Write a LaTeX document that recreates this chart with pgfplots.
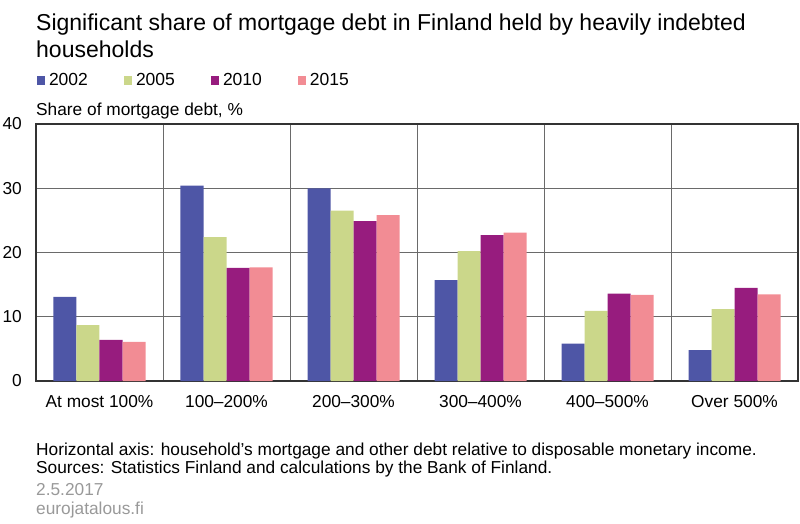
\documentclass[border=0pt]{standalone}
\usepackage{pgfplots}
\pgfplotsset{compat=1.18}
\usepackage{fontspec}
\setmainfont{Liberation Sans}
\definecolor{c2002}{HTML}{4E56A6}
\definecolor{c2005}{HTML}{CBD78A}
\definecolor{c2010}{HTML}{971C7E}
\definecolor{c2015}{HTML}{F28C94}
\definecolor{framec}{HTML}{333333}
\definecolor{gridc}{HTML}{6A6A6A}
\definecolor{footg}{HTML}{999999}
\begin{document}
\begin{tikzpicture}
\useasboundingbox (-36pt,-142pt) rectangle (764pt,381pt);
\begin{axis}[
  scale only axis,
  width=762pt, height=257pt,
  at={(0pt,0pt)}, anchor=south west,
  xmin=-0.5, xmax=5.5, ymin=0, ymax=40,
  ybar=0pt, bar width=23pt,
  xtick={0,1,2,3,4,5},
  xticklabels={At most 100\%,100–200\%,200–300\%,300–400\%,400–500\%,Over 500\%},
  minor xtick={0.5,1.5,2.5,3.5,4.5},
  ytick={0,10,20,30,40},
  major tick length=0pt, minor tick length=0pt,
  xminorgrids=true, ymajorgrids=true,
  grid style={gridc, line width=0.8pt},
  minor grid style={gridc, line width=0.8pt},
  axis line style={framec, line width=1.1pt},
  /pgf/number format/assume math mode=true,
  ticklabel style={font=\fontsize{17.3}{20}\selectfont, inner sep=0pt},
  yticklabel style={anchor=east, xshift=-14pt},
  xticklabel style={anchor=north, yshift=-14pt},
  legend columns=4,
  legend style={draw=none, fill=none, inner sep=0pt, outer sep=0pt,
    at={(0,1)}, anchor=south west, xshift=1pt, yshift=37pt,
    font=\fontsize{17.5}{20}\selectfont,
    nodes={inner sep=0pt, anchor=base west, text width=75pt},
    /tikz/every even column/.style={column sep=0pt}},
  sqleg/.style={legend image code/.code={\fill[##1] (0pt,1pt) rectangle (8pt,10pt); \path (12pt,0pt);}},
]
\addplot[fill=c2002, draw=none, sqleg] coordinates {(0,13.1) (1,30.4) (2,30.0) (3,15.7) (4,5.8) (5,4.8)};
\addplot[fill=c2005, draw=none, sqleg] coordinates {(0,8.7) (1,22.4) (2,26.5) (3,20.2) (4,10.9) (5,11.2)};
\addplot[fill=c2010, draw=none, sqleg] coordinates {(0,6.4) (1,17.6) (2,24.9) (3,22.7) (4,13.6) (5,14.5)};
\addplot[fill=c2015, draw=none, sqleg] coordinates {(0,6.1) (1,17.7) (2,25.8) (3,23.1) (4,13.4) (5,13.5)};
\legend{2002,2005,2010,2015}
\end{axis}
\node[anchor=base west, inner sep=0pt, font=\fontsize{23}{27}\selectfont] at (0pt,351pt) {Significant share of mortgage debt in Finland held by heavily indebted};
\node[anchor=base west, inner sep=0pt, font=\fontsize{23}{27}\selectfont] at (0pt,324pt) {households};
\node[anchor=base west, inner sep=0pt, font=\fontsize{17.3}{20}\selectfont] at (0pt,266pt) {Share of mortgage debt, \%};
\node[anchor=base west, inner sep=0pt, font=\fontsize{17.3}{20}\selectfont] at (0pt,-74pt) {Horizontal axis: household’s mortgage and other debt relative to disposable monetary income.};
\node[anchor=base west, inner sep=0pt, font=\fontsize{17.3}{20}\selectfont] at (0pt,-92pt) {Sources: Statistics Finland and calculations by the Bank of Finland.};
\node[anchor=base west, inner sep=0pt, font=\fontsize{17.3}{20}\selectfont, text=footg] at (0pt,-114pt) {2.5.2017};
\node[anchor=base west, inner sep=0pt, font=\fontsize{17.3}{20}\selectfont, text=footg] at (0pt,-133pt) {eurojatalous.fi};
\end{tikzpicture}
\end{document}
